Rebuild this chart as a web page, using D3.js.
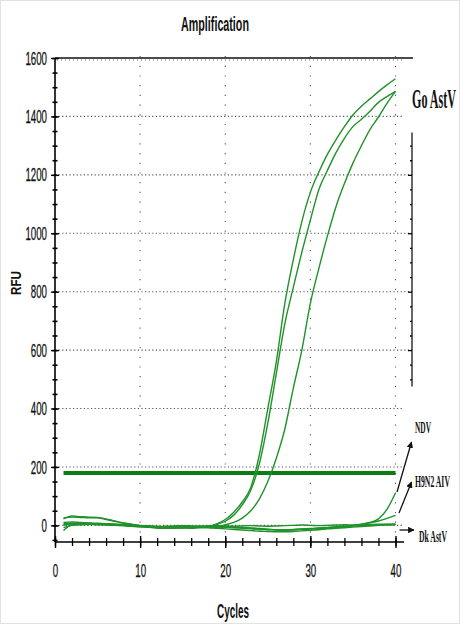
<!DOCTYPE html>
<html>
<head>
<meta charset="utf-8">
<script src="https://cdn.jsdelivr.net/npm/d3@7"></script>
<style>
  body { margin: 0; background: #fff; }
  svg { display: block; }
</style>
</head>
<body>
<script>
// cycles 1..40
const cycles = d3.range(1, 41);

const goAstV1 = [22, 32, 30, 28, 27, 22, 15, 8, 3, -2, -5, -8, -9, -8, -7, -8, -6, -4, 5, 20,
                 45, 80, 130, 240, 400, 560, 760, 910, 1040, 1140, 1210, 1270, 1320, 1365, 1405, 1435, 1460, 1485, 1508, 1529];
const goAstV2 = [5, 8, 6, 5, 4, 3, 2, 0, -2, -4, -6, -8, -9, -8, -9, -7, -6, -3, 3, 14,
                 35, 70, 120, 210, 350, 520, 690, 815, 935, 1045, 1150, 1215, 1275, 1325, 1365, 1390, 1418, 1448, 1468, 1486];
const goAstV3 = [-18, 2, 4, 4, 3, 2, 0, -1, -3, -5, -7, -9, -10, -10, -9, -10, -8, -7, -5, 2,
                 10, 25, 50, 90, 150, 230, 330, 470, 600, 760, 880, 990, 1090, 1170, 1240, 1300, 1355, 1398, 1445, 1486];
const ndv = [10, 12, 10, 8, 7, 6, 5, 3, 1, -1, -3, -5, -6, -7, -6, -5, -6, -7, -8, -7,
             -8, -10, -12, -14, -15, -16, -17, -15, -14, -13, -12, -10, -8, -5, -2, 3, 10, 22, 55, 111];
const h9n2 = [25, 28, 27, 26, 26, 20, 14, 8, 4, 0, -3, -5, -6, -5, -4, -5, -4, -3, -2, -4,
              -6, -8, -10, -12, -14, -15, -16, -15, -13, -12, -10, -8, -6, -3, 0, 4, 9, 15, 24, 34];
const dkAstV = [0, 5, 6, 6, 5, 4, 3, 1, 0, -1, -2, -4, -5, -4, -3, -4, -3, -2, -1, -2,
                -3, -2, -1, -2, -3, -2, -1, 0, 1, 0, -1, 0, 1, 2, 1, 2, 3, 4, 4, 5];
const neg1 = [3, 6, 8, 7, 5, 3, 1, -1, -3, -4, -5, -6, -7, -6, -5, -6, -7, -8, -10, -12,
              -14, -16, -18, -20, -21, -22, -22, -21, -19, -17, -15, -12, -10, -8, -6, -4, -2, 0, 1, 2];
const neg2 = [-8, 0, 2, 3, 2, 2, 1, 0, -1, -2, -3, -4, -3, -2, -1, -2, -3, -4, -3, -5,
              -6, -7, -9, -11, -13, -15, -16, -14, -12, -11, -9, -7, -5, -3, -1, 0, 1, 2, 3, 3];

const seriesList = [neg1, neg2, dkAstV, h9n2, ndv, goAstV3, goAstV2, goAstV1];
const threshold = 179;

const yTicks = [0, 200, 400, 600, 800, 1000, 1200, 1400, 1600];
const xTicks = [0, 10, 20, 30, 40];
const yMinor = d3.range(-50, 1601, 50);
const xMinor = d3.range(0, 41, 2);
const rightTicks = d3.range(500, 1301, 50);

const labels = ["NDV", "H9N2 AIV", "Dk AstV"];

const W = 460, H = 624;
const svg = d3.select("body").append("svg").attr("width", W).attr("height", H);

svg.append("rect").attr("x", 0.5).attr("y", 0.5).attr("width", W - 1).attr("height", H - 1)
    .attr("fill", "#fff").attr("stroke", "#e2e2e2");

const x = d3.scaleLinear().domain([0, 41]).range([55, 404]);
const y = d3.scaleLinear().domain([-57, 1600]).range([542, 58]);

const tickFont = "'Liberation Sans', Arial, sans-serif";
const serif = "'Liberation Serif', 'Times New Roman', serif";

// squeeze a text horizontally to a given width (condensed look)
function addText(str, px, py, width, font, size, anchor) {
    const g = svg.append("g");
    const t = g.append("text")
        .attr("font-family", font).attr("font-weight", "bold").attr("font-size", size)
        .attr("fill", "#111").attr("text-anchor", anchor || "start").text(str);
    const natural = t.node().getComputedTextLength();
    g.attr("transform", `translate(${px},${py}) scale(${width / natural},1)`);
    return g;
}

// grid
const grid = svg.append("g");
grid.selectAll(".hg").data(yTicks.slice(0, 8)).join("line")
    .attr("x1", x(0)).attr("x2", d => (d >= 600 && d <= 1200) ? 412 : 404)
    .attr("y1", d => y(d)).attr("y2", d => y(d))
    .attr("stroke", "#555").attr("stroke-width", 1.1).attr("stroke-dasharray", "1.2,2.4");
grid.selectAll(".vg").data(xTicks.slice(1)).join("line")
    .attr("x1", d => x(d)).attr("x2", d => x(d))
    .attr("y1", 56).attr("y2", 542)
    .attr("stroke", "#555").attr("stroke-width", 1.1).attr("stroke-dasharray", "1.2,8.5");

// threshold
svg.append("line")
    .attr("x1", x(1)).attr("x2", x(40))
    .attr("y1", y(threshold)).attr("y2", y(threshold))
    .attr("stroke", "#0b7d12").attr("stroke-width", 4);

// curves
const line = d3.line()
    .x((d, i) => x(cycles[i]))
    .y(d => y(d))
    .curve(d3.curveMonotoneX);

svg.append("g").selectAll("path").data(seriesList).join("path")
    .attr("d", line)
    .attr("fill", "none")
    .attr("stroke", "#20922a")
    .attr("stroke-width", 1.4);

// top border
svg.append("line").attr("x1", 55).attr("x2", 413).attr("y1", 58).attr("y2", 58)
    .attr("stroke", "#111").attr("stroke-width", 1.6);
svg.append("line").attr("x1", 57).attr("x2", 404).attr("y1", 60).attr("y2", 60)
    .attr("stroke", "#666").attr("stroke-width", 1.2).attr("stroke-dasharray", "1,3");

// left axis
const yAxisG = svg.append("g").attr("transform", "translate(55,0)");
yAxisG.call(d3.axisLeft(y).tickValues(yMinor).tickSize(2).tickFormat(""));
yAxisG.selectAll(".tick line").attr("x2", -2.5).attr("x1", 2.5).attr("stroke-width", 1.6);
yAxisG.select(".domain").remove();
const yMajG = svg.append("g").attr("transform", "translate(55,0)");
yMajG.call(d3.axisLeft(y).tickValues(yTicks).tickSize(4).tickPadding(4).tickFormat(d3.format("d")));
yMajG.selectAll(".tick line").attr("x1", 4).attr("stroke-width", 1.3);
yMajG.select(".domain").attr("d", `M0,${y(1600)}V542`).attr("stroke-width", 1.6);
yMajG.selectAll(".tick text")
    .attr("font-family", tickFont).attr("font-size", 19).attr("fill", "#111")
    .attr("stroke", "#111").attr("stroke-width", 0.3)
    .attr("textLength", d => String(d).length * 5.4).attr("lengthAdjust", "spacingAndGlyphs");

// bottom axis
const xMinG = svg.append("g").attr("transform", "translate(0,542)");
xMinG.call(d3.axisBottom(x).tickValues(xMinor).tickSize(4).tickFormat(""));
xMinG.selectAll(".tick line").attr("y1", -4).attr("stroke-width", 1.3);
xMinG.select(".domain").remove();
const xAxisG = svg.append("g").attr("transform", "translate(0,542)");
xAxisG.call(d3.axisBottom(x).tickValues(xTicks).tickSize(6).tickPadding(16).tickFormat(d3.format("d")));
xAxisG.selectAll(".tick line").attr("y1", -6).attr("stroke-width", 1.4);
xAxisG.select(".domain").attr("d", `M55,0H404`).attr("stroke-width", 1.6);
xAxisG.selectAll(".tick text")
    .attr("font-family", tickFont).attr("font-size", 19).attr("fill", "#111")
    .attr("stroke", "#111").attr("stroke-width", 0.3)
    .attr("textLength", d => String(d).length * 5.4).attr("lengthAdjust", "spacingAndGlyphs");

// stray second axis on the right
const rAxisG = svg.append("g").attr("transform", "translate(412,0)");
rAxisG.call(d3.axisLeft(y).tickValues(rightTicks).tickSize(2).tickFormat(""));
rAxisG.selectAll(".tick line").attr("x2", d => d % 200 === 0 ? -4 : -2).attr("stroke-width", 1.3);
rAxisG.select(".domain").attr("d", `M0,${y(1345)}V${y(475)}`).attr("stroke-width", 1.2);

// titles
addText("Amplification", 215, 31, 68, tickFont, 21, "middle");
addText("Cycles", 233, 618, 32, tickFont, 20, "middle");
svg.append("text").attr("transform", "translate(21,283) rotate(-90)").attr("text-anchor", "middle")
    .attr("font-family", tickFont).attr("font-weight", "bold").attr("font-size", 14)
    .attr("textLength", 24).attr("lengthAdjust", "spacingAndGlyphs")
    .attr("fill", "#111").text("RFU");

// annotations
addText("Go AstV", 412, 108, 44, serif, 27);
const annPos = [[415, 433, 16], [415, 487, 35], [419, 542, 28]];
labels.forEach((d, i) => addText(d, annPos[i][0], annPos[i][1], annPos[i][2], serif, 17));

// arrows
const defs = svg.append("defs");
defs.append("marker").attr("id", "ah").attr("viewBox", "0 0 10 10").attr("refX", 9).attr("refY", 5)
    .attr("markerWidth", 5).attr("markerHeight", 5).attr("orient", "auto")
    .append("path").attr("d", "M0,0L10,5L0,10z").attr("fill", "#111");
const arrows = [
    [397, 492, 411.5, 442],
    [399, 513, 411.5, 482],
    [399.5, 530, 414, 530]
];
svg.append("g").selectAll("line").data(arrows).join("line")
    .attr("x1", d => d[0]).attr("y1", d => d[1]).attr("x2", d => d[2]).attr("y2", d => d[3])
    .attr("stroke", "#111").attr("stroke-width", 1.3).attr("marker-end", "url(#ah)");
</script>
</body>
</html>
